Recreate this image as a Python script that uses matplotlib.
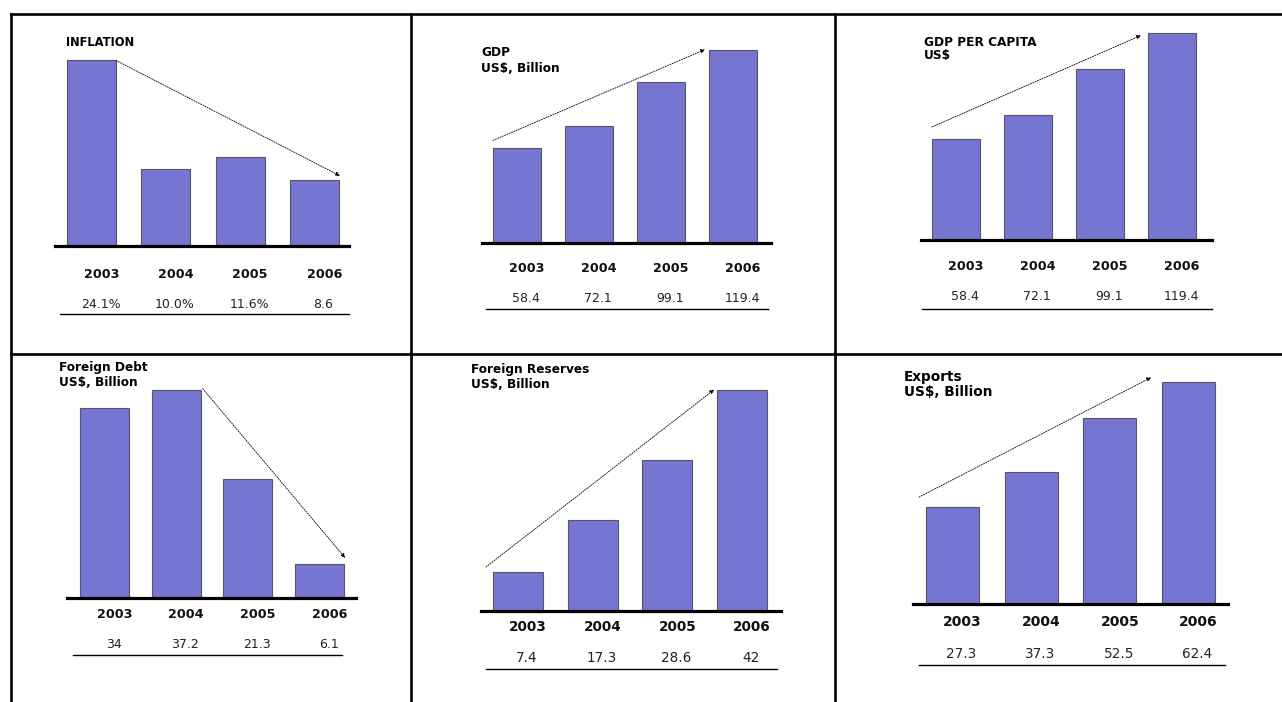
import matplotlib
matplotlib.use("Agg")
import matplotlib.pyplot as plt

plt.rcParams['font.family'] = ['DejaVu Sans']

W, H = 1282, 702

years = ["2003", "2004", "2005", "2006"]

inflation = [24.1, 10.0, 11.6, 8.6]
inflation_labels = ["24.1%", "10.0%", "11.6%", "8.6"]
gdp = [58.4, 72.1, 99.1, 119.4]
gdp_labels = ["58.4", "72.1", "99.1", "119.4"]
gdp_pc = [58.4, 72.1, 99.1, 119.4]
gdp_pc_labels = ["58.4", "72.1", "99.1", "119.4"]
foreign_debt = [34, 37.2, 21.3, 6.1]
foreign_debt_labels = ["34", "37.2", "21.3", "6.1"]
foreign_reserves = [7.4, 17.3, 28.6, 42]
foreign_reserves_labels = ["7.4", "17.3", "28.6", "42"]
exports = [27.3, 37.3, 52.5, 62.4]
exports_labels = ["27.3", "37.3", "52.5", "62.4"]

titles = ["INFLATION", "GDP\nUS$, Billion", "GDP PER CAPITA\nUS$",
          "Foreign Debt\nUS$, Billion", "Foreign Reserves\nUS$, Billion",
          "Exports\nUS$, Billion"]

BAR_COLOR = "#7676D2"
EDGE_COLOR = "#555566"

# layout per panel (pixels)
panels = [
    dict(vals=inflation, labs=inflation_labels, title=titles[0],
         x0=55, x1=349, yb=246, c0=91.5, sp=74.3, bw=49, scale=7.7,
         ty=42, tx=66, tls=15, tfs=8.3,
         yy=275, vy=305, uy=314, ux=(60, 349), yfs=9.2, vfs=9.0,
         arrow=((0, 1, 0, 0), (3, 1, 1, 4))),
    dict(vals=gdp, labs=gdp_labels, title=titles[1],
         x0=482, x1=771, yb=243, c0=517, sp=72, bw=48, scale=1.62,
         ty=53, tx=481, tls=15, tfs=8.7,
         yy=269, vy=299, uy=309, ux=(486, 768), yfs=9.2, vfs=9.0,
         arrow=((0, -1, 0, 8), (3, -1, -4, 0))),
    dict(vals=gdp_pc, labs=gdp_pc_labels, title=titles[2],
         x0=921, x1=1212, yb=240, c0=956, sp=72, bw=48, scale=1.73,
         ty=42, tx=924, tls=13, tfs=8.7,
         yy=267, vy=297, uy=309, ux=(922, 1212), yfs=9.2, vfs=9.0,
         arrow=((0, -1, 0, 12), (3, -1, -7, -2))),
    dict(vals=foreign_debt, labs=foreign_debt_labels, title=titles[3],
         x0=67, x1=356, yb=598, c0=104.5, sp=71.7, bw=49, scale=5.6,
         ty=368, tx=59, tls=15, tfs=8.7,
         yy=615, vy=645, uy=655, ux=(73, 342), yfs=9.2, vfs=9.0,
         arrow=((1, 1, 2, 1), (3, 1, 1, 6))),
    dict(vals=foreign_reserves, labs=foreign_reserves_labels, title=titles[4],
         x0=481, x1=781, yb=611, c0=518, sp=74.7, bw=50, scale=5.27,
         ty=370, tx=471, tls=14, tfs=8.7,
         yy=627, vy=658, uy=669, ux=(486, 777), yfs=9.8, vfs=9.8,
         arrow=((0, -1, -7, 5), (3, -1, -3, 0))),
    dict(vals=exports, labs=exports_labels, title=titles[5],
         x0=913, x1=1228, yb=604, c0=952.5, sp=78.7, bw=53, scale=3.55,
         ty=377, tx=904, tls=15, tfs=9.8,
         yy=622, vy=654, uy=665, ux=(919, 1225), yfs=10, vfs=9.8,
         arrow=((0, -1, -7, 10), (3, -1, -11, 5))),
]

fig = plt.figure(figsize=(W / 100, H / 100), dpi=100)
fig.patch.set_facecolor("white")

ov = fig.add_axes([0, 0, 1, 1])
ov.set_xlim(0, W)
ov.set_ylim(H, 0)
ov.axis("off")
ov.patch.set_alpha(0)

# table grid
glw = 1.9
ov.plot([11, W], [14, 14], color="black", lw=glw, solid_capstyle="projecting")
ov.plot([11, W], [354, 354], color="black", lw=glw)
for gx in [11, 411, 835]:
    ov.plot([gx, gx], [14, H], color="black", lw=glw, solid_capstyle="projecting")

for p in panels:
    top = 25
    h = p["yb"] - top
    ax = fig.add_axes([p["x0"] / W, 1 - p["yb"] / H, (p["x1"] - p["x0"]) / W, h / H])
    ax.patch.set_alpha(0)
    ax.set_xlim((p["x0"] - p["c0"]) / p["sp"], (p["x1"] - p["c0"]) / p["sp"])
    ax.set_ylim(0, h / p["scale"])
    xs = list(range(len(p["vals"])))
    w = p["bw"] / p["sp"]
    ax.bar(xs, p["vals"], width=w, color=BAR_COLOR, edgecolor=EDGE_COLOR, linewidth=0.8)
    for s in ["top", "left", "right"]:
        ax.spines[s].set_visible(False)
    ax.spines["bottom"].set_linewidth(2.3)
    ax.spines["bottom"].set_color("black")
    ax.set_xticks([])
    ax.set_yticks([])

    # arrow
    (si, ss, sdx, sdy), (ei, es, edx, edy) = p["arrow"]
    sx = si + ss * w / 2 + sdx / p["sp"]
    sy = p["vals"][si] + sdy / p["scale"]
    ex = ei + es * w / 2 + edx / p["sp"]
    ey = p["vals"][ei] + edy / p["scale"]
    ax.annotate("", xy=(ex, ey), xytext=(sx, sy), xycoords="data", textcoords="data",
                arrowprops=dict(arrowstyle="-|>", color="black", lw=0.6,
                                linestyle=(0, (1.5, 1.5)), mutation_scale=6,
                                shrinkA=0, shrinkB=0),
                annotation_clip=False)

    # year labels and values
    for i, (yr, lab) in enumerate(zip(years, p["labs"])):
        cx = p["c0"] + i * p["sp"]
        ov.text(cx + 10, p["yy"], yr, ha="center", va="center",
                fontsize=p["yfs"], fontweight="bold", color="#111111")
        ov.text(cx + 9, p["vy"], lab, ha="center", va="center",
                fontsize=p["vfs"], color="#222222")
    ov.plot(list(p["ux"]), [p["uy"], p["uy"]], color="black", lw=1.0)

    # title
    for j, line in enumerate(p["title"].split("\n")):
        ov.text(p["tx"], p["ty"] + j * p["tls"], line, ha="left", va="center",
                fontsize=p["tfs"], fontweight="bold", color="black")

fig.savefig("out.png", dpi=100, facecolor="white")
